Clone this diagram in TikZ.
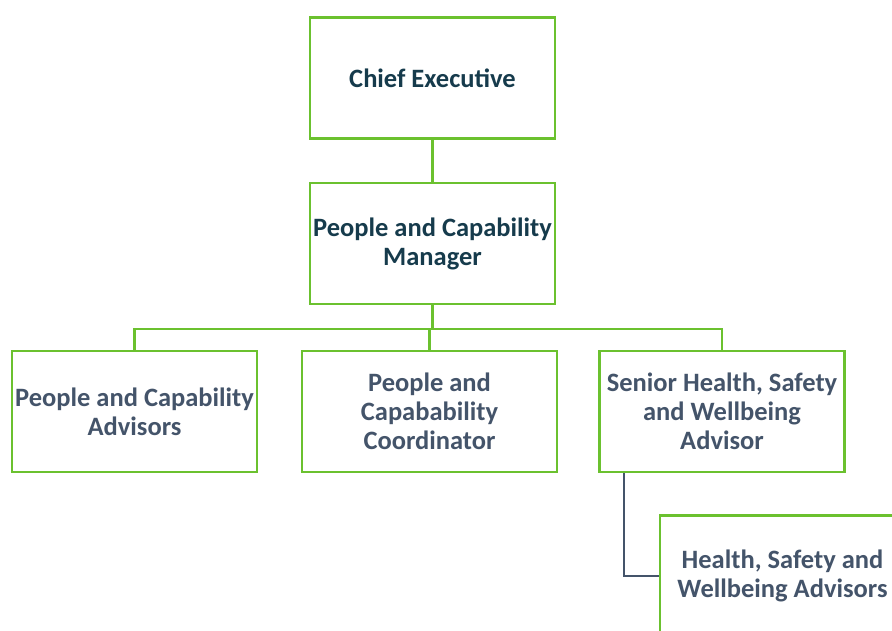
\documentclass[tikz,border=0pt]{standalone}
\usepackage{fontspec}
\setmainfont{Carlito}
\definecolor{boxgreen}{HTML}{6BC12F}
\definecolor{headtext}{HTML}{163B4C}
\definecolor{stafftext}{HTML}{44546A}
\begin{document}
\begin{tikzpicture}[x=1pt,y=-1pt]
\tikzset{
  role/.style={draw=boxgreen, line width=2.8pt, fill=white, rectangle,
    minimum width=245pt, minimum height=121pt, align=center, inner sep=0pt,
    font=\fontsize{26.5}{29}\selectfont\bfseries, text=stafftext},
  head/.style={role, text=headtext},
  link/.style={boxgreen, line width=2.2pt},
  sublink/.style={stafftext, line width=2.4pt}
}
\useasboundingbox (0,0) rectangle (892,630);
\clip (0,0) rectangle (892,630);
% top levels
\node [head] (ceo) at (432.5,78) {Chief Executive};
\node [head] (pcm) at (432.5,243.5) {People and Capability\\Manager};
% second row
\node [role] (pca) at (134.5,411.5) {People and Capability\\Advisors};
\node [role, minimum width=255pt] (pcc) at (429.5,411.5) {People and\\Capabability\\Coordinator};
\node [role] (shs) at (722,411.5) {Senior Health, Safety\\and Wellbeing\\Advisor};
\node [role] (hsa) at (782.5,576) {Health, Safety and\\Wellbeing Advisors};
% connectors
\coordinate (bus) at (432.5,329);
\draw [link] (ceo.south) -- (pcm.north);
\draw [link] (pcm.south) -- (bus);
\draw [link] (pca.north) |- (bus) -| (shs.north);
\draw [link] (bus -| pcc.north) -- (pcc.north);
\draw [sublink] (shs.south -| 624,0) |- (hsa.west);
\end{tikzpicture}
\end{document}
